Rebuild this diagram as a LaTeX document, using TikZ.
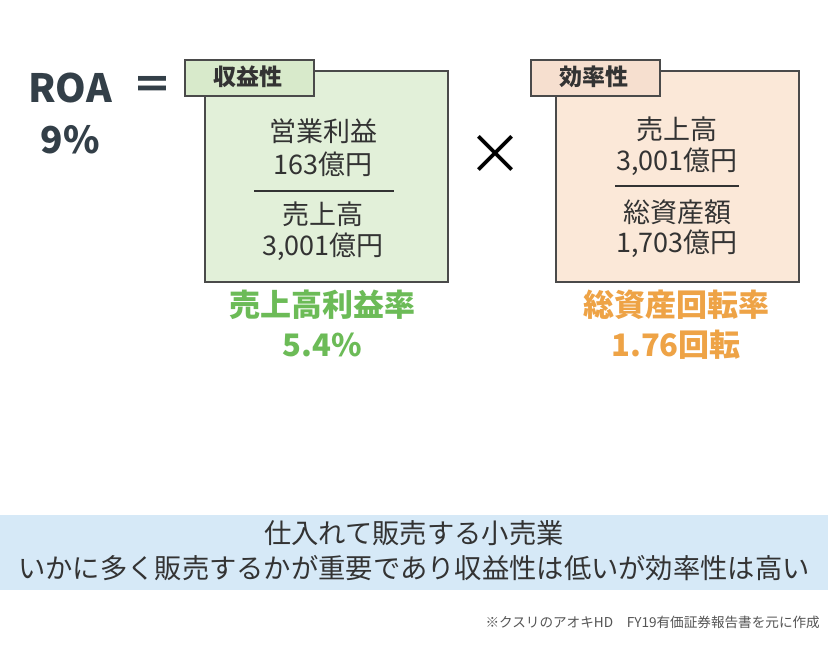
\documentclass[tikz,border=0pt]{standalone}
\usepackage{fontspec}
\setmainfont{Noto Sans CJK JP}
\definecolor{ink}{HTML}{333F48}
\definecolor{txt}{HTML}{333333}
\definecolor{edge}{HTML}{4A4A4A}
\definecolor{gfill}{HTML}{E2F0D9}
\definecolor{gtag}{HTML}{D8EACB}
\definecolor{ofill}{HTML}{FBE8D8}
\definecolor{otag}{HTML}{F6DFCF}
\definecolor{gtext}{HTML}{6CBB57}
\definecolor{otext}{HTML}{EEA346}
\definecolor{band}{HTML}{D6E9F7}
\definecolor{note}{HTML}{555555}
\tikzset{
  x=1pt, y=-1pt,
  mainbox/.style={draw=edge, line width=1.8pt, minimum width=243pt, minimum height=211pt, anchor=north west, inner sep=0pt},
  tagbox/.style={draw=edge, line width=1.8pt, minimum width=129pt, minimum height=36pt, anchor=north west, inner sep=0pt},
  tagtext/.style={font=\bfseries\fontsize{23}{25}\selectfont, text=txt, inner sep=0pt},
  intext/.style={font=\fontsize{27}{30}\selectfont, text=txt, align=center, inner sep=0pt},
  bigbold/.style={font=\bfseries\fontsize{39}{42}\selectfont, text=ink, inner sep=0pt},
  ratio/.style={font=\bfseries\fontsize{31}{34}\selectfont, inner sep=0pt},
  bandtext/.style={font=\fontsize{27.3}{30}\selectfont, text=txt, inner sep=0pt},
  bar/.style={draw=txt, line width=1.2pt}
}
\begin{document}
\begin{tikzpicture}
\useasboundingbox (0,0) rectangle (828,659);
\fill[white] (0,0) rectangle (828,659);

% ROA
\node[bigbold] (roa) at (70,88) {ROA};
\node[bigbold, font=\bfseries\fontsize{37}{40}\selectfont] (pct) at (70,140) {9\%};
\node[font=\bfseries\fontsize{40}{40}\selectfont, text=ink, inner sep=0pt] (eq) at (152,88) {＝};

% green box
\node[mainbox, fill=gfill] (gbox) at (204,70) {};
\node[tagbox, fill=gtag] (gtag) at (184,59) {};
\node[tagtext] (gtagt) at (248,77) {収益性};
\node[intext] (g1) at (323,131) {営業利益};
\node[intext] (g2) at (323,164) {163億円};
\coordinate (gl1) at (254,191);
\coordinate (gl2) at (394,191);
\draw[bar] (gl1) -- (gl2);
\node[intext] (g3) at (323,214) {売上高};
\node[intext] (g4) at (323,247) {3,001億円};

% times
\node[font=\fontsize{56}{56}\selectfont, text=black, inner sep=0pt] (times) at (495,155) {×};

% orange box
\node[mainbox, fill=ofill] (obox) at (555,70) {};
\node[tagbox, fill=otag] (otag) at (530,59) {};
\node[tagtext] (otagt) at (594,77) {効率性};
\node[intext] (o1) at (677,129) {売上高};
\node[intext] (o2) at (677,162) {3,001億円};
\coordinate (ol1) at (615,186);
\coordinate (ol2) at (739,186);
\draw[bar] (ol1) -- (ol2);
\node[intext] (o3) at (677,212) {総資産額};
\node[intext] (o4) at (677,244) {1,703億円};

% ratios
\node[ratio, text=gtext] (gr1) at (322,305) {売上高利益率};
\node[ratio, text=gtext] (gr2) at (322,345) {5.4\%};
\node[ratio, text=otext] (or1) at (676,305) {総資産回転率};
\node[ratio, text=otext] (or2) at (676,345) {1.76回転};

% band
\fill[band] (0,515) rectangle (828,590);
\node[bandtext] (b1) at (414,533) {仕入れて販売する小売業};
\node[bandtext] (b2) at (414,568) {いかに多く販売するかが重要であり収益性は低いが効率性は高い};

% note
\node[font=\fontsize{13.6}{15}\selectfont, text=note, anchor=east, inner sep=0pt] (nt) at (820,622) {※クスリのアオキHD\quad FY19有価証券報告書を元に作成};
\end{tikzpicture}
\end{document}
